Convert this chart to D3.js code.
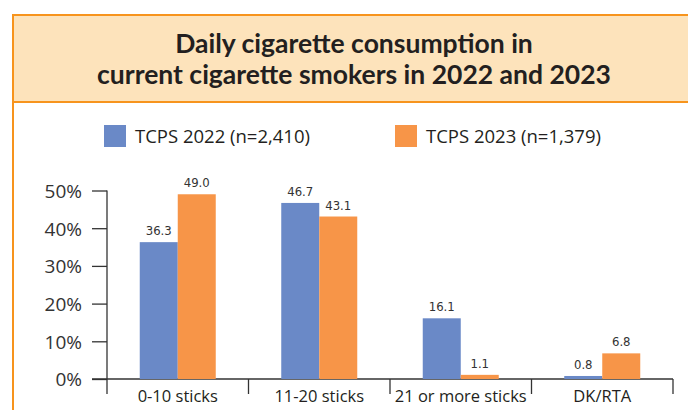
<!DOCTYPE html>
<html>
<head>
<meta charset="utf-8">
<script src="https://cdn.jsdelivr.net/npm/d3@7"></script>
<style>
  html, body { margin: 0; padding: 0; background: #fff; }
  svg { display: block; }
</style>
</head>
<body>
<svg id="chart" width="688" height="410"></svg>
<script>
// Daily cigarette consumption among current smokers, by survey year
const categories = ["0-10 sticks", "11-20 sticks", "21 or more sticks", "DK/RTA"];
const seriesNames = ["TCPS 2022 (n=2,410)", "TCPS 2023 (n=1,379)"];
const values2022 = [36.3, 46.7, 16.1, 0.8];
const values2023 = [49.0, 43.1, 1.1, 6.8];
const yTicks = [0, 10, 20, 30, 40, 50];
const titleLines = ["Daily cigarette consumption in", "current cigarette smokers in 2022 and 2023"];

const colors = ["#6a89c7", "#f79548"];
const frameOrange = "#f7941d";
const peach = "#fde3bb";
const ink = "#231f20";
const bodyFont = "'Open Sans', 'Noto Sans', sans-serif";
const narrowFont = "'Liberation Sans Narrow', 'DejaVu Sans Condensed', sans-serif";

const svg = d3.select("#chart");

// Frame: title panel and left rule
svg.append("rect")
  .attr("x", 13).attr("y", 15)
  .attr("width", 700).attr("height", 87)
  .attr("fill", peach)
  .attr("stroke", frameOrange).attr("stroke-width", 2);
svg.append("line")
  .attr("x1", 13).attr("x2", 13).attr("y1", 102).attr("y2", 420)
  .attr("stroke", frameOrange).attr("stroke-width", 2);

// Title
svg.append("g").selectAll("text").data(titleLines).join("text")
  .attr("x", 354)
  .attr("y", (d, i) => 53 + i * 31)
  .attr("text-anchor", "middle")
  .attr("font-family", "Lato, 'Open Sans', sans-serif")
  .attr("font-weight", 700)
  .attr("font-size", 26.5)
  .attr("fill", ink)
  .text(d => d);

// Scales
const x0 = d3.scaleBand().domain(categories).range([107, 673]).paddingInner(0).paddingOuter(0);
const barW = 38;
const x1 = d3.scaleBand().domain([0, 1]).range([0, barW * 2]);
const y = d3.scaleLinear().domain([0, 50]).range([379, 190.5]);

// Legend
const legendX = [104, 395];
const legend = svg.append("g").selectAll("g").data(seriesNames).join("g")
  .attr("transform", (d, i) => `translate(${legendX[i]},125)`);
legend.append("rect")
  .attr("width", 22).attr("height", 22)
  .attr("fill", (d, i) => colors[i]);
legend.append("text")
  .attr("x", 31).attr("y", 18)
  .attr("font-family", bodyFont)
  .attr("font-size", 18.5)
  .attr("fill", ink)
  .text(d => d);

// Y axis
const yAxis = svg.append("g")
  .attr("transform", "translate(107,0)")
  .call(d3.axisLeft(y).tickValues(yTicks).tickFormat(d => d + "%").tickSize(15).tickPadding(10));
yAxis.select(".domain").remove();
yAxis.selectAll(".tick line").attr("stroke", "#333").attr("stroke-width", 1.3);
yAxis.selectAll(".tick text")
  .attr("font-family", bodyFont)
  .attr("font-size", 19)
  .attr("fill", "#333")
  .attr("dy", "0.36em");
svg.append("line")
  .attr("x1", 107).attr("x2", 107)
  .attr("y1", y(50)).attr("y2", 394)
  .attr("stroke", "#333").attr("stroke-width", 1.3);

// X axis: baseline with band separators
svg.append("line")
  .attr("x1", 92).attr("x2", 673)
  .attr("y1", y(0)).attr("y2", y(0))
  .attr("stroke", "#333").attr("stroke-width", 1.3);
const bounds = categories.map(c => x0(c)).concat([x0.range()[1]]);
svg.append("g").selectAll("line").data(bounds.slice(1)).join("line")
  .attr("x1", d => d).attr("x2", d => d)
  .attr("y1", y(0)).attr("y2", 394)
  .attr("stroke", "#333").attr("stroke-width", 1.3);
svg.append("g").selectAll("text").data(categories).join("text")
  .attr("x", d => x0(d) + x0.bandwidth() / 2)
  .attr("y", 402)
  .attr("text-anchor", "middle")
  .attr("font-family", bodyFont)
  .attr("font-size", 16.5)
  .attr("fill", ink)
  .text(d => d);

// Bars
const rows = categories.map((c, i) => ({ cat: c, vals: [values2022[i], values2023[i]] }));
const groups = svg.append("g").selectAll("g").data(rows).join("g")
  .attr("transform", d => `translate(${x0(d.cat) + x0.bandwidth() / 2 - barW},0)`);
groups.selectAll("rect").data(d => d.vals).join("rect")
  .attr("x", (d, i) => x1(i))
  .attr("width", x1.bandwidth())
  .attr("y", d => y(d))
  .attr("height", d => y(0) - y(d))
  .attr("fill", (d, i) => colors[i]);
groups.selectAll("text").data(d => d.vals).join("text")
  .attr("x", (d, i) => x1(i) + x1.bandwidth() / 2)
  .attr("y", d => y(d) - 7)
  .attr("text-anchor", "middle")
  .attr("font-family", narrowFont)
  .attr("font-size", 13)
  .attr("fill", "#333")
  .text(d => d.toFixed(1));
</script>
</body>
</html>
